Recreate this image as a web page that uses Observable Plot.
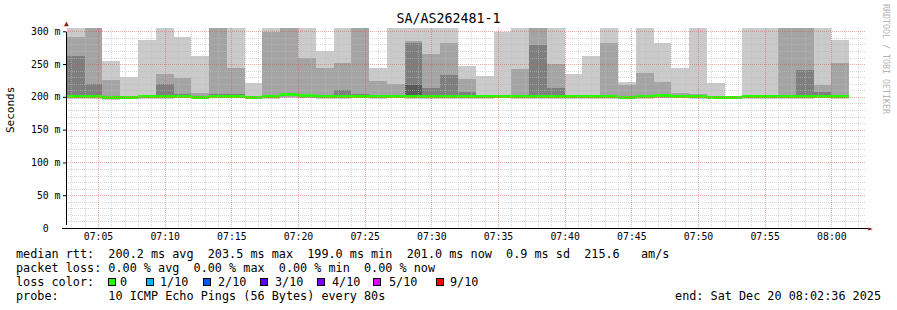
<!DOCTYPE html>
<html><head><meta charset="utf-8">
<script src="https://cdn.jsdelivr.net/npm/d3@7"></script>
<script src="https://cdn.jsdelivr.net/npm/@observablehq/plot@0.6"></script>
<style>
body{margin:0;background:#fff;}
#wrap{position:relative;width:897px;height:310px;overflow:hidden;font-family:"DejaVu Sans Mono",monospace;color:#000;background:#fff;}
#wrap svg{position:absolute;left:0;top:0;}
.t{position:absolute;white-space:pre;font-size:11.8px;line-height:12px;}
.box{position:absolute;width:6px;height:6px;border:1px solid #000;}
</style></head><body><div id="wrap"></div>
<script>
// step boundaries (80 s RRD steps)
const boundaries = ["07:02:40","07:04:00","07:05:20","07:06:40","07:08:00","07:09:20","07:10:40","07:12:00","07:13:20","07:14:40","07:16:00","07:17:20","07:18:40","07:20:00","07:21:20","07:22:40","07:24:00","07:25:20","07:26:40","07:28:00","07:29:20","07:30:40","07:32:00","07:33:20","07:34:40","07:36:00","07:37:20","07:38:40","07:40:00","07:41:20","07:42:40","07:44:00","07:45:20","07:46:40","07:48:00","07:49:20","07:50:40","07:52:00","07:53:20","07:54:40","07:56:00","07:57:20","07:58:40","08:00:00","08:01:20"];
// sorted ping RTTs (ms), ping1 = fastest ... ping10 = slowest
const ping1 = [196.5,196.5,195.5,197,197,197,197.5,196.5,197.5,197.5,197,197,198,198,197,197,197.5,197,197.5,197,197,197,196.5,197,197.5,196.5,196.5,197,197,197,197,196.5,197,197.5,197.5,196.5,197,197,196.5,197,196.5,197,197.5,197];
const ping2 = [197.5,197.5,196.5,198,198,198,198.5,197.5,198.5,198.5,198,198,199.5,199,198,198,198.5,198,198.5,198.5,198.5,198,197.5,198,198.5,197.5,198,198,198,198,198,197.5,198,199,198.5,197.5,198,198,197.5,198,197.5,198,199,198.5];
const ping3 = [198.5,198.5,197.5,198.5,198.5,198.5,199,198.5,199,199,198.5,198.5,201,200,198.5,198.5,199,198.5,199,199.5,199.5,199,198.5,198.5,199,198.5,199.5,199,199,199,199,198.5,199,200,199,198.5,198.5,198.5,198.5,199,198.5,199,199.5,199.5];
const ping4 = [199.3,200.3,198.8,198.6,199.1,199.3,199.3,198.8,199.6,199.6,198.8,199.1,202.3,200.8,199.3,199.3,199.8,199.3,199.3,200.3,200.3,199.8,199.3,199.1,199.3,199.3,200.3,199.8,199.3,199.3,199.3,198.8,199.3,201.3,199.8,199.3,198.8,198.3,199.1,199.3,199.3,199.8,200.3,200.3];
const ping5 = [199.8,200.8,199.3,199.1,199.6,199.8,199.8,199.3,200.1,200.1,199.3,199.6,202.8,201.3,199.8,199.8,200.3,199.8,199.8,200.8,200.8,200.3,199.8,199.6,199.8,199.8,200.8,200.3,199.8,199.8,199.8,199.3,199.8,201.8,200.3,199.8,199.3,198.8,199.6,199.8,199.8,200.3,200.8,200.8];
const ping6 = [200.3,201.3,199.8,199.6,200.1,200.3,200.3,199.8,200.6,200.6,199.8,200.1,203.3,201.8,200.3,200.3,200.8,200.3,200.3,201.3,201.3,200.8,200.3,200.1,200.3,200.3,201.3,200.8,200.3,200.3,200.3,199.8,200.3,202.3,200.8,200.3,199.8,199.3,200.1,200.3,200.3,200.8,201.3,201.3];
const ping7 = [201.5,202.5,200.5,200,200.3,201.5,201,200.5,201,201,200.5,200.8,203.8,202,201,201.5,201.5,201,201,218,202,201.5,201,200.5,200.5,201,202,201.5,200.5,200.5,201,200.5,201,203,201,201,200.5,199.8,200.5,200.8,201,201.5,202,201.5];
const ping8 = [263,219,201,200.5,200.8,219,204,201,204,204,201,201.5,204.5,202.5,202,210,204,202,202,282,214,233,207,201,201,202,279,214,201,201,202,201.5,202,204,202,202,201,200.3,201,201.5,202,241,207,202];
const ping9 = [292,320,226,201,201.5,234.5,229,206,320,244,202,299,320,259,244,252,320,224,219,285,265,282,227,203,202,242,320,250,201.5,202,282,218,236,222,205.6,204,202,201,202,203,320,320,218,251];
const ping10 = [320,320,255,230,287,320,292,262,320,320,221,320,320,320,269.5,320,320,244,320,320,320,320,247,232,299,320,320,320,234.5,263,320,223,320,282,244,320,221,202,320,320,320,320,320,287];
const median = [200.0,201.0,199.5,199.3,199.8,200.0,200.0,199.5,200.3,200.3,199.5,199.8,203.0,201.5,200.0,200.0,200.5,200.0,200.0,201.0,201.0,200.5,200.0,199.8,200.0,200.0,201.0,200.5,200.0,200.0,200.0,199.5,200.0,202.0,200.5,200.0,199.5,199.0,199.8,200.0,200.0,200.5,201.0,201.0];
const yTicks = [0,50,100,150,200,250,300];
const xTickLabels = ["07:05","07:10","07:15","07:20","07:25","07:30","07:35","07:40","07:45","07:50","07:55","08:00"];
const lossLabels = ["0","1/10","2/10","3/10","4/10","5/10","9/10"];
const lossColors = ["#26ff00","#00b8ff","#0059ff","#5e00ff","#7e00ff","#dd00ff","#ff0000"];
const smokeColors = ["#cacaca","#a4a4a4","#7e7e7e","#585858","#323232"];

const day = "2025-12-20T";
const T = s => new Date(day + s + "Z");
const xStart = T("07:02:36"), xEnd = T("08:02:36");
const yMax = 305;
const pings = [ping1,ping2,ping3,ping4,ping5,ping6,ping7,ping8,ping9,ping10];
const rows = median.map((m,i)=>({x1:T(boundaries[i]), x2:T(boundaries[i+1]), p:pings.map(a=>a[i]), med:m}));
const swidth = 2.3;

const majorX = xTickLabels.map(s=>T(s+":00"));
const minorX = d3.utcMinute.range(xStart, xEnd).filter(d=>d.getUTCMinutes()%5!==0);
const majorY = yTicks.filter(v=>v>0);
const minorY = d3.range(10, yMax, 10).filter(v=>v%50!==0);

const marks = [];
smokeColors.forEach((c,k)=>{
  marks.push(Plot.rect(rows,{x1:"x1",x2:"x2",y1:d=>d.p[k],y2:d=>d.p[9-k],fill:c,clip:true,shapeRendering:"crispEdges"}));
});
marks.push(Plot.rect(rows,{x1:"x1",x2:"x2",y1:d=>d.med-swidth,y2:d=>d.med+swidth,fill:lossColors[0],shapeRendering:"crispEdges"}));
marks.push(Plot.ruleX(minorX,{stroke:"#BABABA",strokeOpacity:0.6,strokeDasharray:"1,1",shapeRendering:"crispEdges"}));
marks.push(Plot.ruleY(minorY,{stroke:"#BABABA",strokeOpacity:0.6,strokeDasharray:"1,1",shapeRendering:"crispEdges"}));
marks.push(Plot.ruleX(majorX,{stroke:"#E05050",strokeOpacity:0.5,strokeDasharray:"1,1",shapeRendering:"crispEdges"}));
marks.push(Plot.ruleY(majorY,{stroke:"#E05050",strokeOpacity:0.5,strokeDasharray:"1,1",shapeRendering:"crispEdges"}));
marks.push(Plot.ruleY([0],{stroke:"#000",insetLeft:-4,insetRight:-2,shapeRendering:"crispEdges"}));
marks.push(Plot.ruleX([xStart],{stroke:"#000",y1:0,y2:yMax,insetBottom:-4,insetTop:-3,shapeRendering:"crispEdges"}));
marks.push(Plot.text([[xEnd,0]],{x:d=>d[0],y:d=>d[1],text:()=>"►",dx:4,fill:"#8b1a1a",fontSize:8}));
marks.push(Plot.text([[xStart,yMax]],{x:d=>d[0],y:d=>d[1],text:()=>"▲",dy:-5,fill:"#8b1a1a",fontSize:8}));
marks.push(Plot.axisX(majorX,{tickFormat:d3.utcFormat("%H:%M"),tickSize:0,tickPadding:5,label:null}));
marks.push(Plot.axisY(yTicks,{tickFormat:d=>d===0?"0\u00a0\u00a0":d+" m",tickSize:3,tickPadding:3,label:null}));

const chart = Plot.plot({
  width:897, height:245,
  marginLeft:66, marginRight:31, marginTop:28, marginBottom:17,
  x:{type:"utc", domain:[xStart,xEnd]},
  y:{domain:[0,yMax]},
  style:{fontFamily:"DejaVu Sans Mono",fontSize:"9.8px",background:"transparent",color:"#000",overflow:"visible"},
  marks
});
const wrap = document.getElementById("wrap");
wrap.appendChild(chart);

function addText(txt, left, top, extra){
  const d = document.createElement("div");
  d.className = "t"; d.textContent = txt;
  d.style.left = left + "px"; d.style.top = top + "px";
  if (extra) Object.assign(d.style, extra);
  wrap.appendChild(d); return d;
}
addText("SA/AS262481-1", 0, 12.4, {width:"897px", textAlign:"center", fontSize:"13.3px", lineHeight:"14px"});
addText("Seconds", 5, 127, {fontSize:"11px", transform:"translate(0,-50%) rotate(-90deg)", transformOrigin:"6px 50%", left:"5px"});
addText("RRDTOOL / TOBI OETIKER", 881, 4, {fontSize:"8.3px", color:"#b4b4b4", writingMode:"vertical-rl", lineHeight:"9px"});
addText("median rtt:  200.2 ms avg  203.5 ms max  199.0 ms min  201.0 ms now  0.9 ms sd  215.6   am/s", 16, 248.4);
addText("packet loss: 0.00 % avg  0.00 % max  0.00 % min  0.00 % now", 16, 262.4);
addText("loss color:", 16, 276.4);
const boxX = [108,145.7,203,260,317,373,436];
const labX = [120,160,218,275,332,389,450];
lossLabels.forEach((l,i)=>{
  const b = document.createElement("div");
  b.className = "box"; b.style.left = boxX[i]+"px"; b.style.top = "278px"; b.style.background = lossColors[i];
  wrap.appendChild(b);
  addText(l, labX[i], 276.4);
});
addText("probe:       10 ICMP Echo Pings (56 Bytes) every 80s", 16, 290.4);
addText("end: Sat Dec 20 08:02:36 2025", 0, 290.4, {left:"auto", right:"16px"});
</script></body></html>
